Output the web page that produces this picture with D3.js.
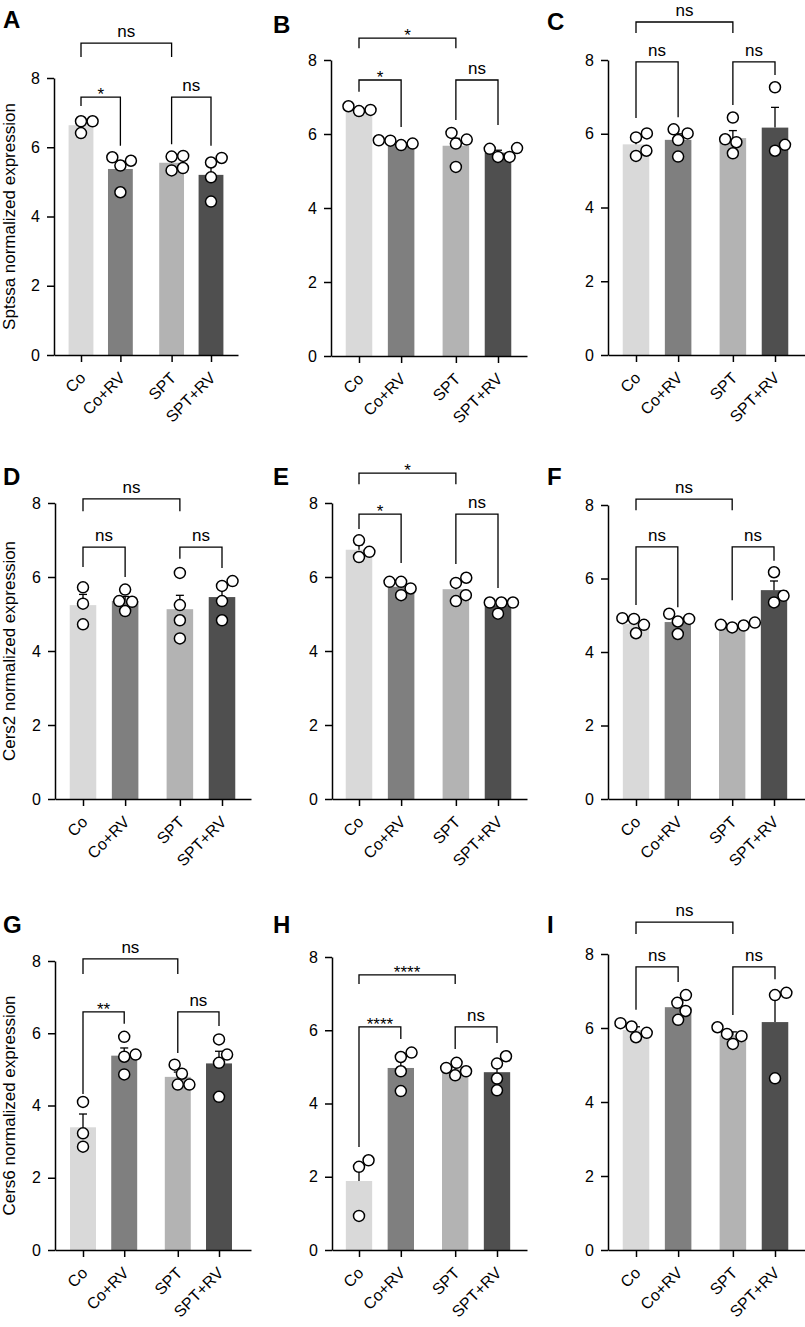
<!DOCTYPE html>
<html lang="en">
<head>
<meta charset="UTF-8">
<title>Sptssa / Cers2 / Cers6 expression</title>
<script src="https://cdn.jsdelivr.net/npm/d3@7"></script>
<style>
  body { margin: 0; background: #fff; }
  svg { display: block; font-family: "Liberation Sans", Arial, Helvetica, sans-serif; }
  .axis path, .axis line { stroke: #000; stroke-width: 1.5; }
  .axis text { font-size: 16px; fill: #000; font-family: "Liberation Sans", Arial, sans-serif; }
  .bracket { fill: none; stroke: #000; stroke-width: 1.3; }
  .sig { font-size: 17px; text-anchor: middle; }
</style>
</head>
<body>
<svg id="chart" width="805" height="1327"></svg>
<script>
// groups and axis
const categories = ["Co", "Co+RV", "SPT", "SPT+RV"];
const barColors = ["#d9d9d9", "#7f7f7f", "#b3b3b3", "#4f4f4f"];
const yTicks = [0, 2, 4, 6, 8];
const panelIds = ["A", "B", "C", "D", "E", "F", "G", "H", "I"];
const yTitles = ["Sptssa normalized expression", "", "", "Cers2 normalized expression", "", "",
                 "Cers6 normalized expression", "", ""];

// individual points per group
const pointsA = [[6.75, 6.75, 6.41], [5.71, 5.61, 5.47, 4.70], [5.73, 5.75, 5.33, 5.40], [5.56, 5.69, 5.13, 4.43]];
const pointsB = [[6.62, 6.75, 6.65], [5.70, 5.83, 5.74, 5.82], [6.03, 5.85, 5.74, 5.11], [5.38, 5.62, 5.38, 5.60]];
const pointsC = [[5.90, 6.01, 5.40, 5.54], [6.01, 6.12, 5.83, 5.38], [6.44, 5.85, 5.77, 5.47], [7.26, 5.54, 5.70]];
const pointsD = [[5.72, 5.28, 4.72], [5.66, 5.08, 5.35, 5.33], [6.11, 5.24, 4.83, 4.34], [5.76, 5.89, 5.35, 4.83]];
const pointsE = [[6.54, 6.99, 6.68], [5.87, 5.87, 5.69, 5.51], [5.84, 5.98, 5.35, 5.51], [5.31, 5.31, 5.31, 5.01]];
const pointsF = [[4.92, 4.90, 4.74, 4.51], [5.04, 4.90, 4.83, 4.49], [4.74, 4.80, 4.72, 4.67], [6.17, 5.35, 5.53]];
const pointsG = [[4.10, 3.23, 2.86], [5.90, 5.41, 5.35, 4.86], [4.88, 5.13, 4.58, 4.58], [5.83, 5.41, 5.18, 4.24]];
const pointsH = [[2.45, 2.27, 0.93], [5.27, 5.39, 4.88, 4.34], [5.11, 4.97, 4.88, 4.77], [5.09, 5.29, 4.68, 4.36]];
const pointsI = [[6.13, 6.04, 5.87, 5.75], [6.68, 6.89, 6.46, 6.22], [6.02, 5.84, 5.78, 5.57], [6.95, 6.89, 4.64]];
const allPoints = [pointsA, pointsB, pointsC, pointsD, pointsE, pointsF, pointsG, pointsH, pointsI];

// comparisons: Co vs Co+RV, SPT vs SPT+RV, Co vs SPT
const comparisons = [[0, 1], [2, 3], [0, 2]];
const sigLabels = [
  ["*", "ns", "ns"], ["*", "ns", "*"], ["ns", "ns", "ns"],
  ["ns", "ns", "ns"], ["*", "ns", "*"], ["ns", "ns", "ns"],
  ["**", "ns", "ns"], ["****", "ns", "****"], ["ns", "ns", "ns"]
];
// bracket levels in data units: [line, left drop end, right drop end]
const bracketLevels = [
  [[7.45, 7.19, 6.04], [7.45, 6.09, 6.04], [9.01, 8.61, 8.61]],
  [[7.46, 7.14, 6.19], [7.46, 6.38, 6.24], [8.59, 8.32, 8.32]],
  [[7.95, 6.43, 6.45], [7.95, 6.78, 7.59], [9.03, 8.73, 8.73]],
  [[6.81, 6.27, 6.00], [6.81, 6.49, 6.24], [8.11, 7.78, 7.78]],
  [[7.70, 7.30, 6.38], [7.70, 6.35, 5.70], [8.81, 8.51, 8.51]],
  [[6.86, 5.28, 5.22], [6.86, 5.41, 6.48], [8.16, 7.86, 7.86]],
  [[6.59, 4.32, 6.26], [6.59, 5.45, 6.20], [8.06, 7.64, 7.64]],
  [[6.09, 2.81, 5.76], [6.09, 5.49, 5.65], [7.51, 7.26, 7.26]],
  [[7.65, 6.49, 7.24], [7.65, 6.35, 7.32], [8.86, 8.54, 8.54]]
];

// panel frames
const layout = [
  { axisX: 54,  c0: 81,  c3: 211, y0: 355,  y8: 78,  xEnd: 238, lx: 3,   ly: 28 },
  { axisX: 331, c0: 359, c3: 498, y0: 356,  y8: 60,  xEnd: 527, lx: 273, ly: 33 },
  { axisX: 608, c0: 636, c3: 775, y0: 355,  y8: 60,  xEnd: 805, lx: 547, ly: 30 },
  { axisX: 55,  c0: 83,  c3: 222, y0: 799,  y8: 503, xEnd: 251, lx: 3,   ly: 485 },
  { axisX: 332, c0: 359, c3: 498, y0: 799,  y8: 503, xEnd: 527, lx: 273, ly: 485 },
  { axisX: 608, c0: 636, c3: 774, y0: 799,  y8: 505, xEnd: 805, lx: 547, ly: 485 },
  { axisX: 55,  c0: 83,  c3: 219, y0: 1250, y8: 961, xEnd: 251, lx: 3,   ly: 933 },
  { axisX: 332, c0: 359, c3: 497, y0: 1250, y8: 957, xEnd: 527, lx: 273, ly: 933 },
  { axisX: 608, c0: 636, c3: 775, y0: 1250, y8: 954, xEnd: 805, lx: 547, ly: 933 }
];

const svg = d3.select("#chart");
const r = 5.5;
const slot = i => i + (i >= 2 ? 0.3 : 0);

// simple beeswarm so dots sit side by side instead of on top of each other
function swarm(values, y) {
  const D = 2 * r + 0.6;
  const placed = [];
  values.slice().sort((a, b) => a - b).forEach(v => {
    const py = y(v);
    const blocks = placed.filter(p => Math.abs(p.py - py) < D)
      .map(p => { const w = Math.sqrt(D * D - (p.py - py) ** 2); return [p.dx - w, p.dx + w]; });
    const cands = [0].concat(blocks.flat()).sort((a, b) => Math.abs(a) - Math.abs(b) || b - a);
    const dx = cands.find(c => blocks.every(b => c <= b[0] + 0.01 || c >= b[1] - 0.01));
    placed.push({ v, py, dx });
  });
  return placed;
}

allPoints.forEach((groups, p) => {
  const L = layout[p];
  const g = svg.append("g");
  const y = d3.scaleLinear().domain([0, 8]).range([L.y0, L.y8]);
  const x = d3.scaleLinear().domain([0, slot(3)]).range([L.c0, L.c3]);
  const bw = (x(1) - x(0)) * 0.63;

  const stats = groups.map(v => ({
    mean: d3.mean(v),
    sem: d3.deviation(v) / Math.sqrt(v.length)
  }));

  // bars
  g.selectAll("rect.bar").data(stats).join("rect")
    .attr("x", (d, i) => x(slot(i)) - bw / 2)
    .attr("y", d => y(d.mean))
    .attr("width", bw)
    .attr("height", d => y(0) - y(d.mean))
    .attr("fill", (d, i) => barColors[i]);

  // error bars (mean + SEM)
  stats.forEach((d, i) => {
    const cx = x(slot(i));
    g.append("line").attr("x1", cx).attr("x2", cx)
      .attr("y1", y(d.mean)).attr("y2", y(d.mean + d.sem))
      .attr("stroke", "#000").attr("stroke-width", 1.3);
    g.append("line").attr("x1", cx - 4).attr("x2", cx + 4)
      .attr("y1", y(d.mean + d.sem)).attr("y2", y(d.mean + d.sem))
      .attr("stroke", "#000").attr("stroke-width", 1.3);
  });

  // dots
  groups.forEach((v, i) => {
    const cx = x(slot(i));
    g.selectAll(null).data(swarm(v, y)).join("circle")
      .attr("cx", d => cx + d.dx)
      .attr("cy", d => d.py)
      .attr("r", r)
      .attr("fill", "#fff")
      .attr("stroke", "#000")
      .attr("stroke-width", 1.5);
  });

  // y axis
  g.append("g").attr("class", "axis")
    .attr("transform", `translate(${L.axisX},0)`)
    .call(d3.axisLeft(y).tickValues(yTicks).tickSize(7).tickSizeOuter(0).tickPadding(7));

  // x axis
  const xa = d3.scaleLinear().domain([x.invert(L.axisX), x.invert(L.xEnd)]).range([L.axisX, L.xEnd]);
  const xAxis = g.append("g").attr("class", "axis")
    .attr("transform", `translate(0,${L.y0})`)
    .call(d3.axisBottom(xa).tickValues(categories.map((c, i) => slot(i)))
      .tickFormat((d, i) => categories[i]).tickSize(7).tickSizeOuter(0));
  xAxis.selectAll("text")
    .attr("text-anchor", "end")
    .attr("x", 0).attr("y", 0)
    .attr("dx", 0).attr("dy", "0.71em")
    .attr("transform", "translate(-3,16) rotate(-45)");

  // y title
  if (yTitles[p]) {
    g.append("text")
      .attr("transform", `translate(15,${(L.y0 + L.y8) / 2}) rotate(-90)`)
      .attr("text-anchor", "middle")
      .attr("font-size", 17)
      .text(yTitles[p]);
  }

  // panel letter
  g.append("text").attr("x", L.lx).attr("y", L.ly)
    .attr("font-size", 24).attr("font-weight", "bold").text(panelIds[p]);

  // significance brackets
  comparisons.forEach((c, k) => {
    const [lv, d1, d2] = bracketLevels[p][k];
    const xa1 = x(slot(c[0])), xa2 = x(slot(c[1]));
    g.append("path").attr("class", "bracket")
      .attr("d", `M${xa1},${y(d1)}V${y(lv)}H${xa2}V${y(d2)}`);
    const lab = sigLabels[p][k];
    g.append("text").attr("class", "sig")
      .attr("x", (xa1 + xa2) / 2)
      .attr("y", lab === "ns" ? y(lv) - 6 : y(lv) + 3)
      .text(lab);
  });
});
</script>
</body>
</html>
